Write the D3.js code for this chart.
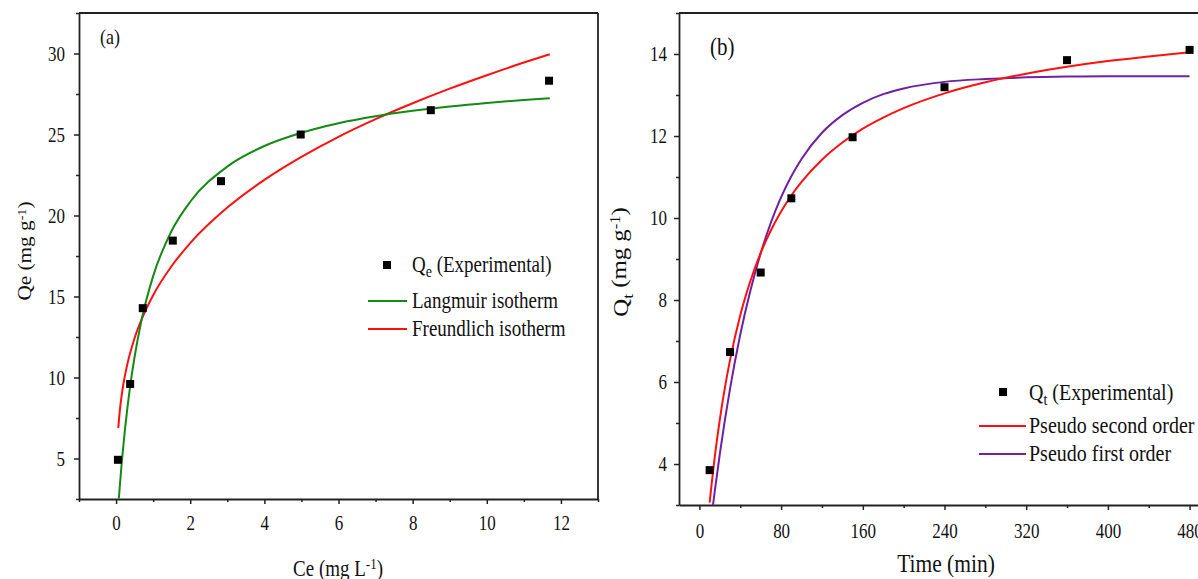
<!DOCTYPE html>
<html>
<head>
<meta charset="utf-8">
<script src="https://cdn.jsdelivr.net/npm/d3@7"></script>
<style>
  body { margin: 0; background: #fff; }
  svg text { font-family: 'Liberation Serif', 'Times New Roman', serif; fill: #111; }
</style>
</head>
<body>
<svg id="chart" width="1198" height="579"></svg>
<script>
// (a) isotherm: experimental points and fitted curves
var ceExp = [0.05, 0.38, 0.72, 1.53, 2.83, 4.98, 8.49, 11.68];
var qeExp = [4.92, 9.6, 14.28, 18.45, 22.12, 25.0, 26.5, 28.32];
var langC = [0.075, 0.1, 0.15, 0.2, 0.3, 0.4, 0.5, 0.7, 1, 1.5, 2, 3, 4, 5, 6, 7, 8, 9, 10, 11, 11.7];
var langQ = [2.53, 3.27, 4.65, 5.88, 8.02, 9.79, 11.28, 13.68, 16.26, 19.06, 20.85, 23.02, 24.29, 25.11, 25.70, 26.13, 26.46, 26.73, 26.95, 27.13, 27.24];
var freuC = [0.06, 0.1, 0.15, 0.2, 0.3, 0.5, 0.7, 1, 1.5, 2, 3, 4, 5, 6, 7, 8, 9, 10, 11, 11.7];
var freuQ = [6.88, 7.93, 8.88, 9.63, 10.78, 12.43, 13.65, 15.08, 16.88, 18.30, 20.49, 22.20, 23.62, 24.86, 25.95, 26.93, 27.83, 28.66, 29.44, 29.95];
var aXMajor = [0, 2, 4, 6, 8, 10, 12];
var aXMinor = [-1, 1, 3, 5, 7, 9, 11, 13];
var aYMajor = [5, 10, 15, 20, 25, 30];
var aYMinor = [2.5, 7.5, 12.5, 17.5, 22.5, 27.5, 32.5];

// (b) kinetics
var tExp = [10, 30, 60, 90, 150, 240, 360, 480];
var qtExp = [3.85, 6.73, 8.67, 10.48, 11.97, 13.19, 13.85, 14.1];
var psoT = [10, 15, 20, 25, 30, 40, 50, 60, 70, 80, 90, 100, 120, 140, 160, 180, 200, 240, 280, 320, 360, 400, 440, 480];
var psoQ = [3.06, 4.17, 5.09, 5.87, 6.54, 7.63, 8.47, 9.15, 9.70, 10.16, 10.55, 10.88, 11.42, 11.84, 12.18, 12.45, 12.68, 13.04, 13.31, 13.52, 13.69, 13.83, 13.94, 14.04];
var pfoT = [13.3, 15, 20, 25, 30, 40, 50, 60, 70, 80, 90, 100, 120, 140, 160, 180, 200, 240, 280, 320, 360, 400, 440, 480];
var pfoQ = [3.0, 3.33, 4.25, 5.08, 5.84, 7.16, 8.24, 9.14, 9.89, 10.51, 11.02, 11.44, 12.08, 12.51, 12.81, 13.02, 13.16, 13.32, 13.39, 13.43, 13.45, 13.46, 13.46, 13.46];
var bXMajor = [0, 80, 160, 240, 320, 400, 480];
var bXMinor = [40, 120, 200, 280, 360, 440];
var bYMajor = [4, 6, 8, 10, 12, 14];
var bYMinor = [3, 5, 7, 9, 11, 13, 15];

(function() {
    var svg = d3.select("#chart");
    var SY = 1.18; // the figure's text is a bit taller than wide

    function label(g, x, y, size, anchor, rotate) {
        return g.append("text")
            .attr("transform", "translate(" + x + "," + y + ") scale(1," + SY + ")" + (rotate ? " rotate(-90)" : ""))
            .attr("text-anchor", anchor)
            .style("font-size", size + "px");
    }

    function zip(xs, ys) {
        return xs.map(function(d, i) { return [d, ys[i]]; });
    }

    function drawPanel(o) {
        var g = svg.append("g");
        var x = o.x, y = o.y;
        var x0 = x.range()[0], x1 = x.range()[1];
        var y0 = y.range()[0], y1 = y.range()[1];

        // frame (top + right)
        g.append("line").attr("x1", x0).attr("x2", o.frameRight).attr("y1", y1).attr("y2", y1)
            .attr("stroke", "#222").attr("stroke-width", 1.8);
        g.append("line").attr("x1", x1).attr("x2", x1).attr("y1", y1).attr("y2", y0)
            .attr("stroke", "#222").attr("stroke-width", 1.8);

        // minor ticks
        g.append("g").attr("transform", "translate(0," + y0 + ")")
            .call(d3.axisBottom(x).tickValues(o.xMinor).tickSize(3).tickSizeOuter(0).tickFormat(""))
            .call(function(a) { a.select(".domain").remove(); });
        g.append("g").attr("transform", "translate(" + x0 + ",0)")
            .call(d3.axisLeft(y).tickValues(o.yMinor).tickSize(3).tickSizeOuter(0).tickFormat(""))
            .call(function(a) { a.select(".domain").remove(); });

        // major axes
        var xa = g.append("g").attr("transform", "translate(0," + y0 + ")")
            .call(d3.axisBottom(x).tickValues(o.xMajor).tickSize(5).tickSizeOuter(0));
        xa.selectAll(".tick text")
            .attr("y", null).attr("dy", null)
            .attr("transform", "translate(0," + o.xLabelOff + ") scale(1," + SY + ")")
            .style("font-size", "17px");
        var ya = g.append("g").attr("transform", "translate(" + x0 + ",0)")
            .call(d3.axisLeft(y).tickValues(o.yMajor).tickSize(5).tickSizeOuter(0));
        ya.selectAll(".tick text")
            .attr("x", null).attr("dy", "0.34em")
            .attr("transform", "translate(" + (-o.yLabelGap) + ",0) scale(1," + SY + ")")
            .style("font-size", "17px");

        g.selectAll(".domain").attr("stroke", "#222").attr("stroke-width", 1.8);
        g.selectAll(".tick line").attr("stroke", "#222").attr("stroke-width", 1.5);

        // fitted curves
        var line = d3.line()
            .x(function(d) { return x(d[0]); })
            .y(function(d) { return y(d[1]); })
            .curve(d3.curveMonotoneX);
        o.curves.forEach(function(c) {
            g.append("path").datum(zip(c.xs, c.ys))
                .attr("d", line)
                .attr("fill", "none")
                .attr("stroke", c.color)
                .attr("stroke-width", 2);
        });

        // experimental points
        g.selectAll("rect.pt")
            .data(zip(o.px, o.py))
            .enter()
            .append("rect")
            .attr("class", "pt")
            .attr("x", function(d) { return x(d[0]) - 4; })
            .attr("y", function(d) { return y(d[1]) - 4; })
            .attr("width", 8)
            .attr("height", 8)
            .attr("fill", "#000");

        return g;
    }

    // ---------- panel (a)
    var xa = d3.scaleLinear().domain([-1, 13]).range([79, 598]);
    var ya = d3.scaleLinear().domain([2.5, 32.5]).range([499, 13]);
    var ga = drawPanel({
        x: xa, y: ya, frameRight: 598,
        xMajor: aXMajor, xMinor: aXMinor, yMajor: aYMajor, yMinor: aYMinor,
        xLabelOff: 31, yLabelGap: 14,
        px: ceExp, py: qeExp,
        curves: [
            { xs: freuC, ys: freuQ, color: "#ff1010" },
            { xs: langC, ys: langQ, color: "#138a13" }
        ]
    });

    label(ga, 100, 44, 18, "start").text("(a)");

    var t = label(ga, 338, 576, 19, "middle");
    t.append("tspan").text("Ce (mg L");
    t.append("tspan").attr("dy", "-0.45em").style("font-size", "13px").text("-1");
    t.append("tspan").attr("dy", "0.3em").text(")");

    t = label(ga, 31, 251, 18, "middle", true);
    t.append("tspan").text("Qe (mg g");
    t.append("tspan").attr("dy", "-0.45em").style("font-size", "12px").text("-1");
    t.append("tspan").attr("dy", "0.3em").text(")");

    // legend (a)
    ga.append("rect").attr("x", 383).attr("y", 261).attr("width", 8).attr("height", 8).attr("fill", "#000");
    t = label(ga, 412, 272, 19, "start");
    t.append("tspan").text("Q");
    t.append("tspan").attr("dy", "0.3em").style("font-size", "14px").text("e");
    t.append("tspan").attr("dy", "-0.22em").text(" (Experimental)");
    ga.append("line").attr("x1", 368).attr("x2", 407).attr("y1", 301).attr("y2", 301).attr("stroke", "#138a13").attr("stroke-width", 2);
    label(ga, 412, 308, 19, "start").text("Langmuir isotherm");
    ga.append("line").attr("x1", 368).attr("x2", 407).attr("y1", 329).attr("y2", 329).attr("stroke", "#ff1010").attr("stroke-width", 2);
    label(ga, 412, 336, 19, "start").text("Freundlich isotherm");

    // ---------- panel (b)
    var xb = d3.scaleLinear().domain([-20, 500]).range([679, 1210]);
    var yb = d3.scaleLinear().domain([3, 15]).range([505, 13]);
    var gb = drawPanel({
        x: xb, y: yb, frameRight: 1210,
        xMajor: bXMajor, xMinor: bXMinor, yMajor: bYMajor, yMinor: bYMinor,
        xLabelOff: 33, yLabelGap: 12,
        px: tExp, py: qtExp,
        curves: [
            { xs: pfoT, ys: pfoQ, color: "#7020a0" },
            { xs: psoT, ys: psoQ, color: "#ff1010" }
        ]
    });

    label(gb, 710, 55, 21, "start").text("(b)");

    label(gb, 946, 572, 21.5, "middle").text("Time (min)");

    t = label(gb, 628, 262, 21, "middle", true);
    t.append("tspan").text("Q");
    t.append("tspan").attr("dy", "0.3em").style("font-size", "15px").text("t");
    t.append("tspan").attr("dy", "-0.3em").text(" (mg g");
    t.append("tspan").attr("dy", "-0.45em").style("font-size", "14px").text("-1");
    t.append("tspan").attr("dy", "0.3em").text(")");

    // legend (b)
    gb.append("rect").attr("x", 999).attr("y", 388).attr("width", 8).attr("height", 8).attr("fill", "#000");
    t = label(gb, 1029, 400, 20, "start");
    t.append("tspan").text("Q");
    t.append("tspan").attr("dy", "0.3em").style("font-size", "14px").text("t");
    t.append("tspan").attr("dy", "-0.21em").text(" (Experimental)");
    gb.append("line").attr("x1", 979).attr("x2", 1026).attr("y1", 426).attr("y2", 426).attr("stroke", "#ff1010").attr("stroke-width", 2);
    label(gb, 1029, 433, 20, "start").text("Pseudo second order");
    gb.append("line").attr("x1", 979).attr("x2", 1026).attr("y1", 454).attr("y2", 454).attr("stroke", "#7020a0").attr("stroke-width", 2);
    label(gb, 1029, 461, 20, "start").text("Pseudo first order");
})();
</script>
</body>
</html>
